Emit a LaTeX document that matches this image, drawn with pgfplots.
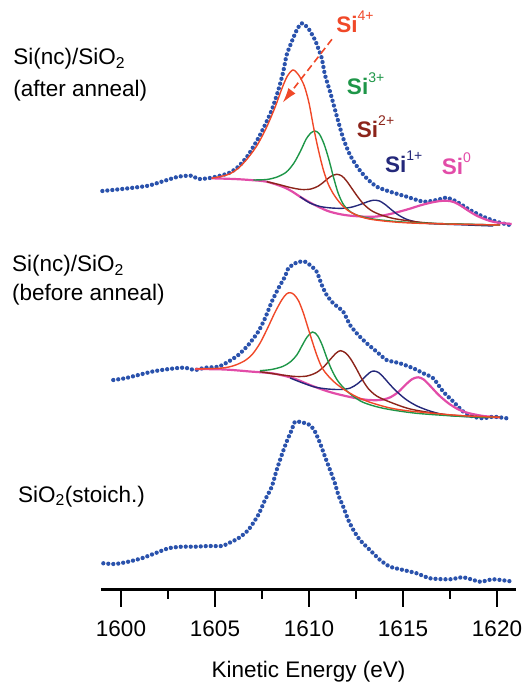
\documentclass[border=0pt]{standalone}
\usepackage{fontspec}
\setmainfont{Liberation Sans}
\usepackage{pgfplots}
\pgfplotsset{compat=1.18}
\usetikzlibrary{arrows.meta}

\definecolor{dblue}{RGB}{42,82,172}
\definecolor{cred}{RGB}{240,72,40}
\definecolor{cgreen}{RGB}{30,150,72}
\definecolor{cbrown}{RGB}{140,36,26}
\definecolor{cnavy}{RGB}{36,40,122}
\definecolor{cpink}{RGB}{226,76,168}

\pgfplotsset{
  datadots/.style={color=dblue, line width=4.3pt, line cap=round, dash pattern=on 0pt off 5pt, smooth, tension=0.4},
  fit/.style={line width=1.4pt, smooth, tension=0.5},
}
\newcommand{\supr}[1]{\raisebox{0.55em}{\fontsize{14}{14}\selectfont\mdseries #1}}

\begin{document}
\begin{tikzpicture}[font=\fontsize{22.5}{27}\selectfont]
\begin{axis}[
  scale only axis, width=415pt, height=589.5pt,
  xmin=1598.936, xmax=1621.01, ymin=93.5, ymax=683,
  axis x line*=bottom, axis y line=none,
  xtick={1600,1605,1610,1615,1620},
  xticklabels={1600,1605,1610,1615,1620},
  minor xtick={1602.5,1607.5,1612.5,1617.5},
  tick align=outside,
  major tick length=17pt, minor tick length=9pt,
  every tick/.style={black, line width=2.2pt},
  x axis line style={line width=2.6pt},
  xticklabel style={font=\fontsize{22.5}{27}\selectfont, yshift=-11pt},
  xlabel={Kinetic Energy (eV)},
  xlabel style={at={(axis description cs:0.5,0)}, anchor=base, yshift=-88pt},
  clip=false,
]
% ---------- top: after anneal ----------
\addplot[datadots] coordinates {
(1599.01,492) (1600.39,494.7) (1601.45,497.3) (1602.16,501.3) (1603.05,506.3)
(1603.76,507.3) (1604.11,504) (1604.82,505.3) (1605.71,509.7) (1606.24,516.3)
(1606.77,528) (1607.30,544.7) (1607.66,558) (1608.02,573) (1608.37,593)
(1608.63,611.3) (1608.81,628) (1609.08,641.3) (1609.35,653) (1609.61,659.7)
(1609.96,654.7) (1610.32,643) (1610.49,634.7) (1610.68,624.7) (1610.85,608)
(1611.12,591.3) (1611.29,579.7) (1611.56,561.3) (1611.82,544.7) (1612.18,528)
(1612.62,514.7) (1613.07,504.7) (1613.60,496.3) (1614.31,491.3) (1615.20,486.3)
(1616.08,481.3) (1616.79,483) (1617.32,485.3) (1617.86,481.3) (1618.56,473)
(1619.27,466.3) (1619.98,461.3) (1620.69,458) (1620.87,459.7)};
\addplot[fit, cpink, line width=2.2pt] coordinates {
(1604.82,504.7) (1606.00,504) (1606.86,503) (1607.75,501.3) (1608.63,496)
(1609.10,491.5) (1609.52,486.3) (1610.00,481) (1610.41,477) (1611.00,472)
(1611.60,469) (1612.20,467.3) (1613.00,466.3) (1613.60,466.5) (1614.20,468.5)
(1614.84,471.5) (1615.40,474.5) (1615.90,477.5) (1616.40,480) (1616.90,481.8)
(1617.30,482.3) (1617.70,481) (1618.10,477) (1618.50,472) (1618.90,467.5)
(1619.40,463.5) (1619.90,460.8) (1620.78,459)};
\addplot[fit, cnavy] coordinates {
(1609.52,486.3) (1610.05,480) (1610.60,476.5) (1611.20,475) (1611.80,474.7)
(1612.30,476) (1612.80,479) (1613.15,481.5) (1613.45,482.8) (1613.75,482)
(1614.05,478.5) (1614.40,473) (1614.80,467.5) (1615.30,463) (1616.20,459.7)
(1618.40,458) (1619.80,457)};
\addplot[fit, cbrown] coordinates {
(1607.75,501.3) (1608.40,498.5) (1609.00,495.5) (1609.60,493.5) (1610.10,494)
(1610.50,497) (1610.85,502) (1611.15,506.5) (1611.47,508.7) (1611.75,507)
(1612.00,502) (1612.30,494) (1612.60,486) (1612.95,478) (1613.40,471.5)
(1614.00,467) (1614.80,463.5) (1616.60,459.7) (1620.16,458)};
\addplot[fit, cgreen] coordinates {
(1607.04,503) (1607.75,503.5) (1608.30,506) (1608.80,511) (1609.20,520)
(1609.55,532) (1609.85,544) (1610.10,550) (1610.32,552) (1610.55,549)
(1610.80,539) (1611.05,524) (1611.30,506) (1611.55,490) (1611.85,478)
(1612.30,470) (1612.90,466) (1613.80,463) (1615.90,460) (1620.16,458)};
\addplot[fit, cred] coordinates {
(1604.82,504.7) (1605.70,508.5) (1606.25,515) (1606.75,525) (1607.25,538)
(1607.75,556) (1608.20,576) (1608.55,594) (1608.85,607) (1609.15,613)
(1609.45,608) (1609.75,597) (1610.00,580) (1610.25,555) (1610.50,533)
(1610.75,514) (1611.00,500) (1611.30,489) (1611.70,479) (1612.20,471)
(1613.20,464) (1615.40,460) (1620.16,458)};
% ---------- middle: before anneal ----------
\addplot[datadots] coordinates {
(1599.59,303) (1600.21,304.7) (1600.92,308) (1601.63,311.3) (1602.16,313)
(1602.87,314.7) (1603.40,315.3) (1603.94,313) (1604.47,315.3) (1605.18,316.3)
(1605.71,321.3) (1606.24,328) (1606.77,338) (1607.30,351.3) (1607.66,364.7)
(1608.02,381.3) (1608.37,394.7) (1608.72,406.3) (1608.90,414.7) (1609.26,419.7)
(1609.52,421.3) (1609.79,421.3) (1610.05,418) (1610.41,411.3) (1610.68,398)
(1610.94,388) (1611.29,379.7) (1611.82,371.3) (1612.18,358) (1612.62,348)
(1613.07,339.7) (1613.60,331.3) (1614.13,323) (1614.84,319.7) (1615.55,314.7)
(1616.08,309.7) (1616.61,304.7) (1617.14,291.3) (1617.68,281.3) (1618.21,271.3)
(1618.74,266.3) (1619.27,264.7) (1619.80,266.3) (1620.52,264.7)};
\addplot[fit, cpink, line width=2.2pt] coordinates {
(1603.94,314) (1605.50,313.5) (1606.86,311.5) (1608.10,309.5) (1609.17,304.7)
(1610.05,298) (1610.70,293.5) (1611.29,290) (1612.18,286) (1613.07,283.2)
(1613.78,283) (1614.30,285.5) (1614.75,291) (1615.15,298.5) (1615.50,304)
(1615.81,305.7) (1616.10,303.5) (1616.45,297) (1616.90,288) (1617.40,280)
(1617.90,274) (1618.40,270.3) (1619.27,267) (1620.16,265.7)};
\addplot[fit, cnavy] coordinates {
(1608.99,305) (1609.60,300.5) (1610.30,296) (1611.00,294) (1611.70,293.5)
(1612.20,295) (1612.60,299.5) (1612.95,305.5) (1613.20,310) (1613.42,312)
(1613.70,310.5) (1614.00,305) (1614.35,297.5) (1614.75,290) (1615.20,283)
(1615.80,276.5) (1616.60,271) (1617.50,267.5) (1619.27,265.7) (1620.16,265.5)};
\addplot[fit, cbrown] coordinates {
(1607.39,311.3) (1608.46,308.3) (1609.30,306.5) (1609.90,307) (1610.40,310.5)
(1610.80,316.5) (1611.15,324) (1611.45,330) (1611.68,332.3) (1611.95,330)
(1612.20,324.5) (1612.50,315) (1612.80,304.5) (1613.15,294.5) (1613.60,287)
(1614.30,281) (1615.50,273.5) (1617.50,268) (1620.16,265.7)};
\addplot[fit, cgreen] coordinates {
(1607.39,312.3) (1608.00,313.5) (1608.60,316.5) (1609.00,321) (1609.35,328)
(1609.65,338) (1609.90,346) (1610.19,351) (1610.45,347.5) (1610.70,338)
(1610.95,325) (1611.20,313.5) (1611.50,303) (1611.85,295) (1612.30,287.5)
(1612.90,280.5) (1613.95,274.7) (1615.73,269.7) (1618.39,266.3) (1620.16,265.7)};
\addplot[fit, cred] coordinates {
(1603.94,314) (1605.00,314.5) (1605.60,315.5) (1606.10,318) (1606.60,322.5)
(1607.00,329) (1607.40,340) (1607.80,355) (1608.20,371) (1608.55,383)
(1608.80,389) (1608.99,390.3) (1609.20,388.5) (1609.45,382) (1609.70,370)
(1609.95,355) (1610.20,340) (1610.45,326) (1610.70,315) (1611.00,307.5)
(1611.40,300) (1611.90,293) (1612.50,286.5) (1613.20,281) (1614.20,275.5)
(1615.20,272.3) (1617.00,269) (1618.40,267) (1620.16,265.7)};
% ---------- bottom: stoichiometric SiO2 ----------
\addplot[datadots] coordinates {
(1599.06,119.7) (1599.68,119) (1600.39,121.3) (1601.10,124.7) (1601.81,129.7)
(1602.52,134.7) (1603.23,136.3) (1603.94,136.3) (1604.64,137) (1605.36,137)
(1605.71,139.7) (1606.24,144.7) (1606.77,153) (1607.30,168) (1607.66,183)
(1608.02,196.3) (1608.28,213) (1608.55,228) (1608.81,241.3) (1609.08,253)
(1609.26,261.3) (1609.70,260.3) (1610.05,258) (1610.32,251.3) (1610.59,239.7)
(1610.85,226.3) (1611.12,213) (1611.38,199.7) (1611.56,188) (1611.82,176.3)
(1612.09,163) (1612.36,153) (1612.71,143) (1613.24,133) (1613.78,123)
(1614.31,116.3) (1615.02,113) (1615.73,109.7) (1616.44,104.7) (1617.50,103.7)
(1618.21,105.7) (1619.10,101.3) (1619.80,103.7) (1620.87,101.3)};
% ---------- annotations ----------
\draw[cred, line width=1.6pt, dash pattern=on 7pt off 4pt, -{Latex[length=15pt,width=9pt]}]
  (axis cs:1611.22,643.7) -- (axis cs:1608.60,580.3);
\node[anchor=base west, text=cred, inner sep=0] at (axis cs:1611.44,650) {\bfseries Si\supr{4+}};
\node[anchor=base west, text=cgreen, inner sep=0] at (axis cs:1612.01,588) {\bfseries Si\supr{3+}};
\node[anchor=base west, text=cbrown, inner sep=0] at (axis cs:1612.54,545) {\bfseries Si\supr{2+}};
\node[anchor=base west, text=cnavy, inner sep=0] at (axis cs:1614.04,510) {\bfseries Si\supr{1+}};
\node[anchor=base west, text=cpink, inner sep=0] at (axis cs:1617.06,508) {\bfseries Si\supr{0}};
\node[anchor=base west, inner sep=0] at (axis cs:1594.26,618) {Si(nc)/SiO\textsubscript{2}};
\node[anchor=base west, inner sep=0] at (axis cs:1594.26,586) {(after anneal)};
\node[anchor=base west, inner sep=0] at (axis cs:1594.20,411) {Si(nc)/SiO\textsubscript{2}};
\node[anchor=base west, inner sep=0] at (axis cs:1594.20,382) {(before anneal)};
\node[anchor=base west, inner sep=0] at (axis cs:1594.52,181) {SiO\textsubscript{2}(stoich.)};
\coordinate (BL) at (axis cs:1593.564,0);
\coordinate (TR) at (axis cs:1621.436,683);
\end{axis}
\pgfresetboundingbox
\path (BL) rectangle (TR);
\end{tikzpicture}
\end{document}
